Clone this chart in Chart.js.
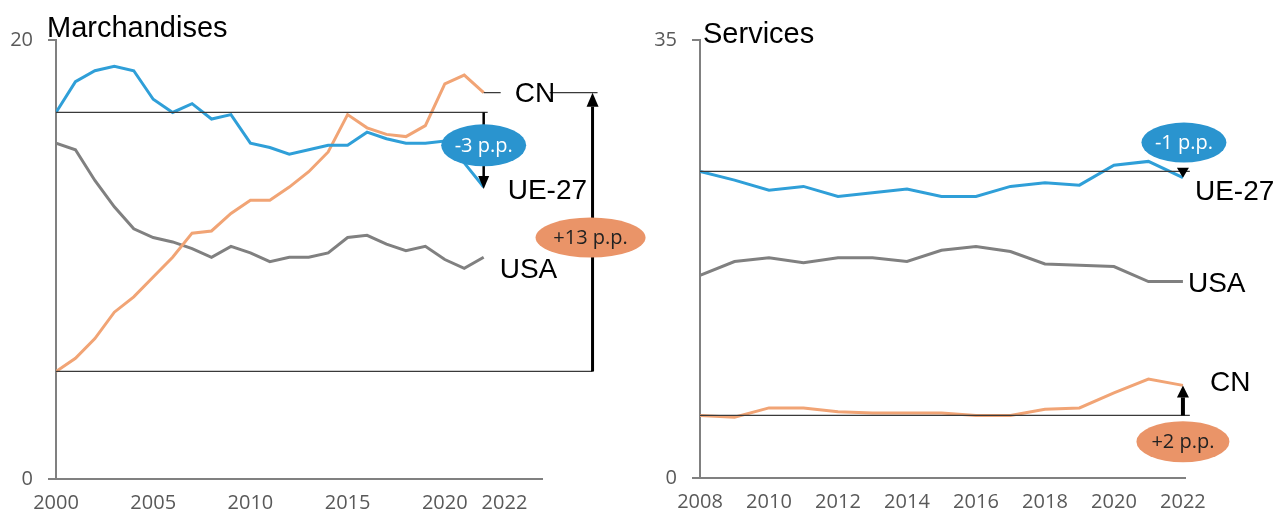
<!DOCTYPE html>
<html lang="fr">
<head>
<meta charset="utf-8">
<title>Marchandises et services</title>
<script src="https://cdn.jsdelivr.net/npm/chart.js@4.4.1/dist/chart.umd.min.js"></script>
<style>
  body { margin: 0; background: #fff; }
  #wrap { position: relative; width: 1277px; height: 511px; }
  .panel { position: absolute; top: 0; height: 511px; }
</style>
</head>
<body>
<div id="wrap">
  <div class="panel" style="left:640px;width:637px"><canvas id="chart-serv"></canvas></div>
  <div class="panel" style="left:0;width:665px"><canvas id="chart-march"></canvas></div>
</div>
<script>
// Marchandises (2000-2022)
const yearsMarch = [2000, 2001, 2002, 2003, 2004, 2005, 2006, 2007, 2008, 2009, 2010, 2011,
    2012, 2013, 2014, 2015, 2016, 2017, 2018, 2019, 2020, 2021, 2022];
const ueMarch = [16.7, 18.1, 18.6, 18.8, 18.6, 17.3, 16.7, 17.1, 16.4, 16.6, 15.3, 15.1,
    14.8, 15.0, 15.2, 15.2, 15.8, 15.5, 15.3, 15.3, 15.4, 14.4, 13.3];
const cnMarch = [4.9, 5.5, 6.4, 7.6, 8.3, 9.2, 10.1, 11.2, 11.3, 12.1, 12.7, 12.7,
    13.3, 14.0, 14.9, 16.6, 16.0, 15.7, 15.6, 16.1, 18.0, 18.4, 17.6];
const usaMarch = [15.3, 15.0, 13.6, 12.4, 11.4, 11.0, 10.8, 10.5, 10.1, 10.6, 10.3, 9.9,
    10.1, 10.1, 10.3, 11.0, 11.1, 10.7, 10.4, 10.6, 10.0, 9.6, 10.1];
const xTicksMarch = [2000, 2005, 2010, 2015, 2020, 2022];
const yTicksMarch = [0, 20];

// Services (2008-2022)
const yearsServ = [2008, 2009, 2010, 2011, 2012, 2013, 2014, 2015, 2016, 2017, 2018, 2019,
    2020, 2021, 2022];
const ueServ = [24.5, 23.8, 23.0, 23.3, 22.5, 22.8, 23.1, 22.5, 22.5, 23.3, 23.6, 23.4,
    25.0, 25.3, 24.0];
const usaServ = [16.2, 17.3, 17.6, 17.2, 17.6, 17.6, 17.3, 18.2, 18.5, 18.1, 17.1, 17.0,
    16.9, 15.7, 15.7];
const cnServ = [5.0, 4.85, 5.6, 5.6, 5.3, 5.2, 5.2, 5.2, 5.0, 5.0, 5.5, 5.6,
    6.8, 7.9, 7.4];
const xTicksServ = [2008, 2010, 2012, 2014, 2016, 2018, 2020, 2022];
const yTicksServ = [0, 35];

const BLUE = '#2f9fd8';
const BLUE_BUBBLE = '#2a94cf';
const ORANGE = '#f1a475';
const ORANGE_BUBBLE = '#ea9468';
const GREY = '#808080';
const AXIS = '#808080';
const TICK_TEXT = '#595959';
const tickFont = { family: "'Open Sans', sans-serif", size: 20 };
const labelFont = "28px 'Liberation Sans', Arial, sans-serif";
const titleFont = "29px 'Liberation Sans', Arial, sans-serif";

function toPoints(years, values) {
    return years.map((x, i) => ({ x: x, y: values[i] }));
}

function makeDatasets(years, ue, cn, usa) {
    return [
        { label: 'UE-27', data: toPoints(years, ue), borderColor: BLUE },
        { label: 'CN', data: toPoints(years, cn), borderColor: ORANGE },
        { label: 'USA', data: toPoints(years, usa), borderColor: GREY }
    ].map((d) => Object.assign(d, { borderWidth: 3, pointRadius: 0, tension: 0, fill: false }));
}

// --- drawing helpers for the annotations ---
function hLine(ctx, x0, x1, y) {
    ctx.save();
    ctx.strokeStyle = '#3a3a3a';
    ctx.lineWidth = 1.2;
    ctx.beginPath();
    ctx.moveTo(x0, y);
    ctx.lineTo(x1, y);
    ctx.stroke();
    ctx.restore();
}

function drawArrow(ctx, x, yFrom, yTo, lineWidth, headW, headL) {
    const dir = yTo > yFrom ? 1 : -1;
    ctx.save();
    ctx.strokeStyle = '#000';
    ctx.fillStyle = '#000';
    ctx.lineWidth = lineWidth;
    if (Math.abs(yTo - yFrom) > headL) {
        ctx.beginPath();
        ctx.moveTo(x, yFrom);
        ctx.lineTo(x, yTo - dir * headL);
        ctx.stroke();
    }
    ctx.beginPath();
    ctx.moveTo(x - headW / 2, yTo - dir * headL);
    ctx.lineTo(x + headW / 2, yTo - dir * headL);
    ctx.lineTo(x, yTo);
    ctx.closePath();
    ctx.fill();
    ctx.restore();
}

function drawBubble(ctx, cx, cy, w, h, fill, text, color) {
    ctx.save();
    ctx.fillStyle = fill;
    ctx.beginPath();
    ctx.ellipse(cx, cy, w / 2, h / 2, 0, 0, Math.PI * 2);
    ctx.fill();
    ctx.fillStyle = color;
    ctx.font = "20px 'Open Sans', sans-serif";
    ctx.textAlign = 'center';
    ctx.textBaseline = 'middle';
    ctx.fillText(text, cx, cy + 1);
    ctx.restore();
}

function drawLabel(ctx, text, x, y) {
    ctx.save();
    ctx.fillStyle = '#000';
    ctx.font = labelFont;
    ctx.textAlign = 'left';
    ctx.textBaseline = 'middle';
    ctx.fillText(text, x, y);
    ctx.restore();
}

function drawTitle(ctx, text, x, y) {
    ctx.save();
    ctx.fillStyle = '#000';
    ctx.font = titleFont;
    ctx.textAlign = 'left';
    ctx.textBaseline = 'alphabetic';
    ctx.fillText(text, x, y);
    ctx.restore();
}

const marchNotes = {
    id: 'marchNotes',
    afterDatasetsDraw(chart) {
        const ctx = chart.ctx;
        const xs = chart.scales.x, ys = chart.scales.y;
        const last = yearsMarch.length - 1;
        const x0 = xs.getPixelForValue(yearsMarch[0]);
        const xEnd = xs.getPixelForValue(yearsMarch[last]);
        const xBig = xs.getPixelForValue(2027.6); // the +13 arrow, right of the axis end
        const yUe0 = ys.getPixelForValue(ueMarch[0]);
        const yUeEnd = ys.getPixelForValue(ueMarch[last]);
        const yCn0 = ys.getPixelForValue(cnMarch[0]);
        const yCnEnd = ys.getPixelForValue(cnMarch[last]);

        // UE-27: -3 p.p.
        hLine(ctx, x0, xEnd + 4, yUe0);
        drawArrow(ctx, xEnd, yUe0, yUeEnd + 2, 2.5, 11, 13);
        drawBubble(ctx, xEnd, ys.getPixelForValue(15.2), 85, 42, BLUE_BUBBLE, '-3 p.p.', '#fff');

        // CN: +13 p.p.
        hLine(ctx, x0, xBig, yCn0);
        hLine(ctx, xEnd, xBig + 5, yCnEnd);
        ctx.save();
        ctx.fillStyle = '#fff';
        ctx.fillRect(xEnd + 17, yCnEnd - 4, 49, 8);
        ctx.restore();
        drawArrow(ctx, xBig, yCn0, yCnEnd, 3, 12, 14);
        drawBubble(ctx, xBig - 2, ys.getPixelForValue(11), 110, 40, ORANGE_BUBBLE, '+13 p.p.', '#222');

        drawLabel(ctx, 'CN', xEnd + 31, yCnEnd + 2);
        drawLabel(ctx, 'UE-27', xEnd + 24, ys.getPixelForValue(13.1));
        drawLabel(ctx, 'USA', xEnd + 16, ys.getPixelForValue(9.5));
        drawTitle(ctx, 'Marchandises', 47, 37);
    }
};

const servNotes = {
    id: 'servNotes',
    afterDatasetsDraw(chart) {
        const ctx = chart.ctx;
        const xs = chart.scales.x, ys = chart.scales.y;
        const last = yearsServ.length - 1;
        const x0 = xs.getPixelForValue(yearsServ[0]);
        const xEnd = xs.getPixelForValue(yearsServ[last]);
        const xLineEnd = xs.getPixelForValue(2022.2);
        const yUe0 = ys.getPixelForValue(ueServ[0]);
        const yUeEnd = ys.getPixelForValue(ueServ[last]);
        const yCn0 = ys.getPixelForValue(cnServ[0]);
        const yCnEnd = ys.getPixelForValue(cnServ[last]);

        // UE-27: -1 p.p.
        hLine(ctx, x0, xLineEnd, yUe0);
        drawArrow(ctx, xEnd, yUe0, yUeEnd, 2.5, 12, 10);
        drawBubble(ctx, xEnd + 1, ys.getPixelForValue(26.8), 85, 40, BLUE_BUBBLE, '-1 p.p.', '#fff');

        // CN: +2 p.p.
        hLine(ctx, x0, xLineEnd, yCn0);
        drawArrow(ctx, xEnd, yCn0, yCnEnd, 4, 12, 12);
        drawBubble(ctx, xEnd, ys.getPixelForValue(2.9), 93, 41, ORANGE_BUBBLE, '+2 p.p.', '#222');

        drawLabel(ctx, 'UE-27', xEnd + 12, ys.getPixelForValue(22.8));
        drawLabel(ctx, 'USA', xEnd + 5, ys.getPixelForValue(15.5));
        drawLabel(ctx, 'CN', xEnd + 27, ys.getPixelForValue(7.6));
        drawTitle(ctx, 'Services', 63, 43);
    }
};

function makeOptions(cfg) {
    return {
        responsive: true,
        maintainAspectRatio: false,
        animation: false,
        layout: { padding: { top: 40, right: cfg.padRight, left: 0, bottom: 0 } },
        plugins: { legend: { display: false }, tooltip: { enabled: false } },
        scales: {
            x: {
                type: 'linear',
                min: cfg.xMin,
                max: cfg.xMax,
                afterBuildTicks: (scale) => { scale.ticks = cfg.xTicks.map((v) => ({ value: v })); },
                afterFit: (scale) => { scale.height = cfg.xHeight; },
                grid: { display: false },
                border: { display: true, color: AXIS, width: 2 },
                ticks: {
                    autoSkip: false,
                    maxRotation: 0,
                    minRotation: 0,
                    padding: 4,
                    color: TICK_TEXT,
                    font: tickFont,
                    callback: cfg.xLabel
                }
            },
            y: {
                min: cfg.yMin,
                max: cfg.yMax,
                afterBuildTicks: (scale) => { scale.ticks = cfg.yTicks.map((v) => ({ value: v })); },
                afterFit: (scale) => { scale.width = cfg.yWidth; },
                grid: { display: true, drawOnChartArea: false, drawTicks: true, tickLength: 8, color: AXIS, lineWidth: 2 },
                border: { display: true, color: AXIS, width: 2 },
                ticks: { padding: 15, color: TICK_TEXT, font: tickFont }
            }
        }
    };
}

new Chart(document.getElementById('chart-march'), {
    type: 'line',
    data: { datasets: makeDatasets(yearsMarch, ueMarch, cnMarch, usaMarch) },
    options: makeOptions({
        xMin: 2000, xMax: 2025, xTicks: xTicksMarch,
        yMin: 0, yMax: 20, yTicks: yTicksMarch,
        padRight: 123, yWidth: 56, xHeight: 32,
        // the last label sits a little to the right of its tick in the original
        xLabel: (v) => (v === 2022 ? '        2022' : String(v))
    }),
    plugins: [marchNotes]
});

new Chart(document.getElementById('chart-serv'), {
    type: 'line',
    data: { datasets: makeDatasets(yearsServ, ueServ, cnServ, usaServ) },
    options: makeOptions({
        xMin: 2008, xMax: 2022.06, xTicks: xTicksServ,
        yMin: 0, yMax: 35, yTicks: yTicksServ,
        padRight: 92, yWidth: 60, xHeight: 33,
        xLabel: (v) => String(v)
    }),
    plugins: [servNotes]
});
</script>
</body>
</html>
